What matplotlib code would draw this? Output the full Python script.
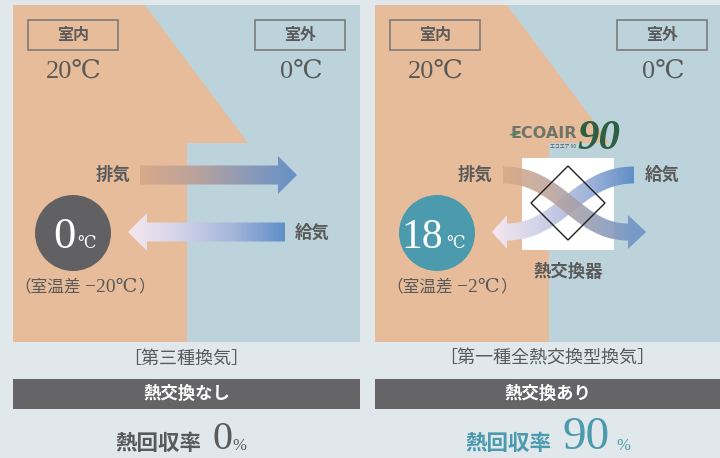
import numpy as np
import matplotlib
matplotlib.use("Agg")
import matplotlib.pyplot as plt
from matplotlib.patches import Polygon, Rectangle, Circle
from matplotlib.colors import LinearSegmentedColormap

# values shown in the picture
systems = ["［第三種換気］", "［第一種全熱交換型換気］"]
exchange_labels = ["熱交換なし", "熱交換あり"]
indoor_temp = 20
outdoor_temp = 0
supply_temps = [0, 18]
temp_diffs = [-20, -2]
recovery_rates = [0, 90]

JP = ["Noto Sans CJK JP", "DejaVu Sans"]
SERIF = ["Liberation Serif", "DejaVu Serif", "Noto Sans CJK JP"]

bg = "#e0e8eb"
orange = "#e6bc9a"
blue = "#bdd3dc"
txt = "#5a5a5a"
teal = "#4b9aae"
bar_gray = "#656567"

exhaust_cmap = LinearSegmentedColormap.from_list("ex", ["#d8aa88", "#bca39b", "#8f9bb6", "#6591c8"])
supply_cmap = LinearSegmentedColormap.from_list("su", ["#f6e8f0", "#d2d2e8", "#a4b6da", "#5f8fc8"])

fig = plt.figure(figsize=(7.2, 4.58), dpi=100, facecolor=bg)
ax = fig.add_axes([0, 0, 1, 1])
ax.set_facecolor(bg)
ax.set_xlim(0, 720)
ax.set_ylim(458, 0)
renderer = fig.canvas.get_renderer()


def bezier(p, n=80):
    t = np.linspace(0, 1, n)[:, None]
    p0, p1, p2, p3 = [np.array(q, float) for q in p]
    pts = (1 - t) ** 3 * p0 + 3 * (1 - t) ** 2 * t * p1 + 3 * (1 - t) * t ** 2 * p2 + t ** 3 * p3
    d = 3 * (1 - t) ** 2 * (p1 - p0) + 6 * (1 - t) * t * (p2 - p1) + 3 * t ** 2 * (p3 - p2)
    d = d / np.linalg.norm(d, axis=1)[:, None]
    nrm = np.column_stack([-d[:, 1], d[:, 0]])
    return pts, nrm


def grad_arrow(ctrl, tip_x, hw, hh, cmap, z, alpha=1.0):
    pts, nrm = bezier(ctrl)
    a = pts + hw * nrm
    b = pts - hw * nrm
    end = pts[-1]
    ne = nrm[-1]
    head = [end + hh * ne, [tip_x, end[1]], end - hh * ne]
    poly = np.vstack([a, head, b[::-1]])
    patch = Polygon(poly, closed=True, fill=False, lw=0)
    ax.add_patch(patch)
    x0, x1 = poly[:, 0].min(), poly[:, 0].max()
    y0, y1 = poly[:, 1].min(), poly[:, 1].max()
    ramp = np.linspace(0, 1, 256)[None, :]
    im = ax.imshow(ramp, cmap=cmap, extent=(x0, x1, y1, y0), aspect="auto",
                   zorder=z, alpha=alpha, interpolation="bilinear")
    im.set_clip_path(patch)


def chain(x, y, parts, color, z=6):
    # place pieces of text one after another, left to right
    for s, fam, size, gap in parts:
        t = ax.text(x, y, s, family=fam, fontsize=size, color=color, ha="left",
                    va="center", zorder=z)
        x = t.get_window_extent(renderer).x1 + gap


def temp_text(x, y, value, size, color):
    ax.text(x, y, f"{value}℃", family=SERIF, fontsize=size, color=color,
            ha="center", va="center")


for i, off in enumerate([0, 362]):
    left = 13 + off
    right = 360 if i == 0 else 720
    # panel background and house shape
    ax.add_patch(Rectangle((left, 5), right - left, 337, facecolor=blue, edgecolor="none", zorder=1))
    house = [(left, 5), (left + 132, 5), (left + 235, 143), (left + 174, 143),
             (left + 174, 342), (left, 342)]
    ax.add_patch(Polygon(house, closed=True, facecolor=orange, edgecolor="none", zorder=2))

    # room labels
    for cx, lab in [(left + 60, "室内"), (left + 287, "室外")]:
        ax.add_patch(Rectangle((cx - 45, 20), 90, 30, facecolor="none", edgecolor="#7b7b7b",
                               lw=1.2, zorder=3))
        ax.text(cx, 35, lab, family=JP, fontsize=11.5, fontweight="bold", color=txt,
                ha="center", va="center", zorder=4)
    temp_text(left + 61, 72, indoor_temp, 19, txt)
    temp_text(left + 288, 72, outdoor_temp, 19, txt)

    # supply temperature circle
    ccol = "#616163" if i == 0 else teal
    cx = left + 60 if i == 0 else left + 62
    ax.add_patch(Circle((cx, 233), 38, facecolor=ccol, edgecolor="none", zorder=5))
    st = str(supply_temps[i])
    ax.text(cx + (3 if i == 0 else 6), 248, st, family=SERIF, fontsize=32 if i == 0 else 30,
            color="white", ha="right", va="baseline", zorder=6)
    ax.text(cx + (4 if i == 0 else 9), 248, "℃", family=SERIF, fontsize=12,
            color="white", ha="left", va="baseline", zorder=6)
    dx = left + 1 if i == 0 else left + 11
    chain(dx, 287, [("（室温差", JP, 12, 4),
                    (f"−{abs(temp_diffs[i])}℃", SERIF, 14, 1),
                    ("）", JP, 12, 0)], txt)

    # bottom captions
    mid = (left + right) / 2
    ax.text(mid, 359, systems[i], family=JP, fontsize=13, color=txt, ha="center", va="center")
    ax.add_patch(Rectangle((left, 379), right - left, 30, facecolor=bar_gray, edgecolor="none"))
    ax.text(mid, 394, exchange_labels[i], family=JP, fontsize=12.5, fontweight="bold",
            color="white", ha="center", va="center")

# left panel: straight arrows
grad_arrow([(140, 175), (190, 175), (230, 175), (278, 175)], 297, 9.5, 19, exhaust_cmap, 7)
grad_arrow([(285, 232), (235, 232), (190, 232), (147, 232)], 128, 9.5, 19,
           supply_cmap, 7)
ax.text(113, 175, "排気", family=JP, fontsize=12.5, fontweight="bold", color=txt, ha="center", va="center")
ax.text(312, 233, "給気", family=JP, fontsize=12.5, fontweight="bold", color=txt, ha="center", va="center")

# right panel: heat exchanger with crossing arrows
ax.add_patch(Rectangle((522, 158), 92, 92, facecolor="white", edgecolor="none", zorder=6))
grad_arrow([(634, 175), (577, 175), (560, 232), (507, 232)], 492, 8.5, 17, supply_cmap, 7)
grad_arrow([(503, 175), (560, 175), (577, 232), (628, 232)], 646, 8.5, 17, exhaust_cmap, 8, alpha=0.88)
ax.add_patch(Polygon([(568, 166), (605, 203), (568, 240), (531, 203)], closed=True,
                     facecolor="none", edgecolor="#222222", lw=1.0, zorder=9))
ax.text(475, 175, "排気", family=JP, fontsize=12.5, fontweight="bold", color=txt, ha="center", va="center")
ax.text(662, 175, "給気", family=JP, fontsize=12.5, fontweight="bold", color=txt, ha="center", va="center")
ax.text(568, 272, "熱交換器", family=JP, fontsize=12.5, fontweight="bold", color=txt, ha="center", va="center")

# ECOAIR 90 logo
ax.add_patch(Polygon([(509, 135), (516, 131), (521, 133), (514, 136)], closed=True,
                     facecolor="#3aa655", edgecolor="none", zorder=9))
ax.text(511, 134, "ECOAIR", family=["DejaVu Sans"], fontsize=11.5, fontweight="bold",
        color="#6f7468", ha="left", va="center", zorder=9)
ax.text(577, 149, "90", family=["Liberation Serif"], fontsize=31, style="italic", fontweight="bold",
        color="#2d5f43", ha="left", va="baseline", zorder=9)
ax.text(563, 146, "エコエア 90", family=JP, fontsize=3.5, color="#555555",
        ha="center", va="center", zorder=10)

# heat recovery rate
rate_colors = [txt, teal]
rate_x = [115, 465]
num_x = [212, 562]
num_sizes = [29, 34]
pct_x = [232, 616]
for i in range(2):
    ax.text(rate_x[i], 443, "熱回収率", family=JP, fontsize=15.5, fontweight="bold",
            color=rate_colors[i], ha="left", va="center")
    ax.text(num_x[i], 449, str(recovery_rates[i]), family=SERIF, fontsize=num_sizes[i],
            color=rate_colors[i], ha="left", va="baseline")
    ax.text(pct_x[i], 450, "%", family=SERIF, fontsize=12, color=rate_colors[i],
            ha="left", va="baseline")

ax.axis("off")
fig.savefig("out.png", dpi=100, facecolor=bg)
